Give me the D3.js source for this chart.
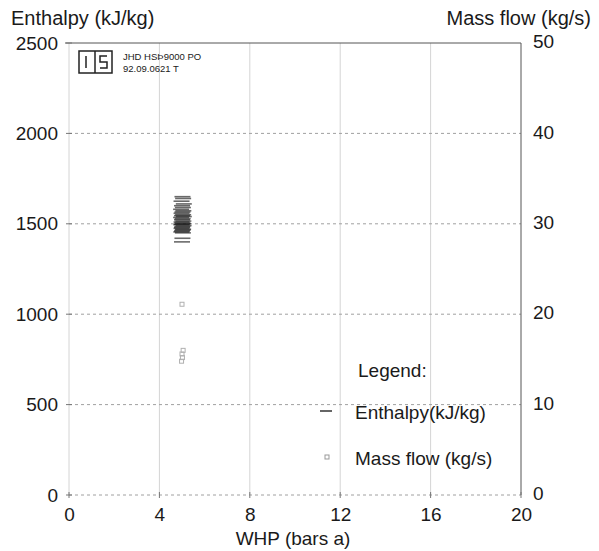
<!DOCTYPE html>
<html><head><meta charset="utf-8">
<script src="https://cdn.jsdelivr.net/npm/d3@7"></script>
<style>
html,body{margin:0;padding:0;background:#fff;}
text{font-family:"Liberation Sans",Arial,sans-serif;fill:#1a1a1a;}
</style></head>
<body>
<svg id="chart" width="599" height="551"></svg>
<script>
// ---- data ----
const xTicks = [0, 4, 8, 12, 16, 20];
const yLeftTicks = [0, 500, 1000, 1500, 2000, 2500];
const yRightTicks = [0, 10, 20, 30, 40, 50];
const enthalpyWHP = [5.02, 5.05, 4.98, 5.08, 5.0, 5.04, 4.96, 5.06, 5.02, 4.98, 5.05, 5.0, 5.08, 4.96, 5.03, 5.0, 5.06, 4.98, 5.02, 5.05, 5.0, 4.97, 5.07, 5.02, 5.0, 4.98, 5.05, 5.03, 5.0, 4.97, 5.04, 5.02, 5.0];
const enthalpyVals = [1650, 1640, 1625, 1610, 1600, 1590, 1580, 1572, 1565, 1558, 1550, 1545, 1540, 1535, 1528, 1522, 1515, 1510, 1505, 1500, 1498, 1495, 1490, 1485, 1480, 1475, 1470, 1465, 1460, 1455, 1450, 1420, 1400];
const massWHP = [5.0, 5.05, 5.0, 5.02, 4.98];
const massVals = [21.1, 16.0, 15.6, 15.2, 14.8];

const svg = d3.select("#chart");
const L = 69, R = 521, T = 43, B = 495;
const FS = 19;
const x = d3.scaleLinear().domain([0, 20]).range([L, R]);
const yL = d3.scaleLinear().domain([0, 2500]).range([B, T]);
const yR = d3.scaleLinear().domain([0, 50]).range([B, T]);

// vertical grid lines
svg.append("g").selectAll("line").data(xTicks.slice(0, -1)).join("line")
  .attr("x1", d => x(d)).attr("x2", d => x(d)).attr("y1", T).attr("y2", B)
  .attr("stroke", "#d4d4d4").attr("stroke-width", 1);
// horizontal grid lines
svg.append("g").selectAll("line").data(yLeftTicks.slice(0, -1)).join("line")
  .attr("x1", L).attr("x2", R).attr("y1", d => yL(d)).attr("y2", d => yL(d))
  .attr("stroke", "#a0a0a0").attr("stroke-width", 1).attr("stroke-dasharray", "3,3");
// top + right frame
svg.append("line").attr("x1", L - 4).attr("x2", R).attr("y1", T).attr("y2", T).attr("stroke", "#555").attr("stroke-width", 1);
svg.append("line").attr("x1", R).attr("x2", R).attr("y1", T).attr("y2", B).attr("stroke", "#555").attr("stroke-width", 1);

// axes (ticks as small crosses)
const axB = d3.axisBottom(x).tickValues(xTicks).tickFormat(d3.format("d")).tickSize(0).tickPadding(10);
const gB = svg.append("g").attr("transform", `translate(0,${B})`).call(axB);
gB.select(".domain").remove();
gB.selectAll("text").attr("font-size", FS).attr("dy", "0.85em");
svg.append("g").selectAll("line").data(xTicks).join("line")
  .attr("x1", d => x(d)).attr("x2", d => x(d)).attr("y1", B - 3).attr("y2", B + 3).attr("stroke", "#777");

const axL = d3.axisLeft(yL).tickValues(yLeftTicks).tickFormat(d3.format("d")).tickSize(0).tickPadding(8);
const gL = svg.append("g").attr("transform", `translate(${L - 3},0)`).call(axL);
gL.select(".domain").remove();
gL.selectAll("text").attr("font-size", FS);

const axR = d3.axisRight(yR).tickValues(yRightTicks).tickFormat(d3.format("d")).tickSize(0).tickPadding(12);
const gR = svg.append("g").attr("transform", `translate(${R},0)`).call(axR);
gR.select(".domain").remove();
gR.selectAll("text").attr("font-size", FS).attr("dy", "0.25em");

svg.append("g").selectAll("line").data(yLeftTicks).join("line")
  .attr("x1", L - 3).attr("x2", L + 3).attr("y1", d => yL(d)).attr("y2", d => yL(d)).attr("stroke", "#777");

// titles
svg.append("text").attr("x", 11).attr("y", 25).attr("font-size", 20).text("Enthalpy (kJ/kg)");
svg.append("text").attr("x", 591).attr("y", 25).attr("font-size", 20).attr("text-anchor", "end").text("Mass flow (kg/s)");
svg.append("text").attr("x", 293).attr("y", 545).attr("font-size", FS).attr("text-anchor", "middle").text("WHP (bars a)");

// logo
const logo = svg.append("g").attr("fill", "none").attr("stroke", "#222").attr("stroke-width", 1.5);
logo.append("rect").attr("x", 79).attr("y", 51).attr("width", 33).attr("height", 22);
logo.append("line").attr("x1", 95).attr("x2", 95).attr("y1", 51).attr("y2", 73);
logo.append("line").attr("x1", 86).attr("x2", 86).attr("y1", 56).attr("y2", 68);
logo.append("path").attr("d", "M107,56 H100 V62 H107 V68 H100");
svg.append("text").attr("x", 123).attr("y", 60).attr("font-size", 9.5).text("JHD HSÞ9000 PO");
svg.append("text").attr("x", 123).attr("y", 72).attr("font-size", 9.5).text("92.09.0621 T");

// enthalpy marks (short dashes)
svg.append("g").selectAll("line").data(enthalpyVals).join("line")
  .attr("x1", (d, i) => x(enthalpyWHP[i]) - 8).attr("x2", (d, i) => x(enthalpyWHP[i]) + 8)
  .attr("y1", d => yL(d)).attr("y2", d => yL(d))
  .attr("stroke", "#1a1a1a").attr("stroke-opacity", 0.65).attr("stroke-width", 1.6);

// mass flow marks (tiny squares)
svg.append("g").selectAll("rect").data(massVals).join("rect")
  .attr("x", (d, i) => x(massWHP[i]) - 2).attr("y", d => yR(d) - 2)
  .attr("width", 4).attr("height", 4)
  .attr("fill", "none").attr("stroke", "#b0b0b0").attr("stroke-width", 1);

// legend
svg.append("text").attr("x", 358).attr("y", 377).attr("font-size", FS).text("Legend:");
svg.append("line").attr("x1", 320).attr("x2", 332).attr("y1", 411).attr("y2", 411).attr("stroke", "#333").attr("stroke-width", 1.5);
svg.append("text").attr("x", 355).attr("y", 419).attr("font-size", FS).text("Enthalpy(kJ/kg)");
svg.append("rect").attr("x", 325).attr("y", 455).attr("width", 4).attr("height", 4).attr("fill", "none").attr("stroke", "#999");
svg.append("text").attr("x", 355).attr("y", 465).attr("font-size", FS).text("Mass flow (kg/s)");
</script>
</body></html>
